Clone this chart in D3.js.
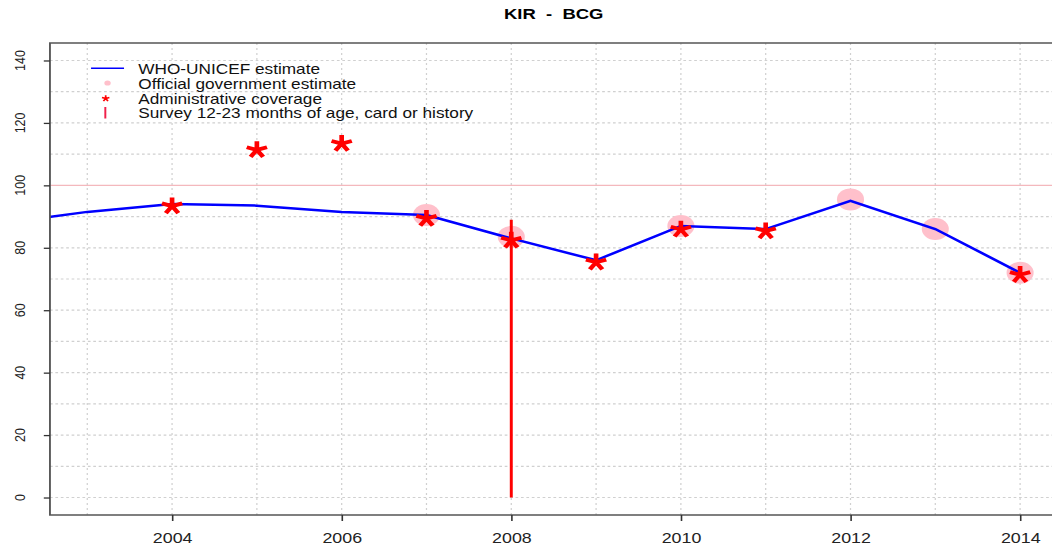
<!DOCTYPE html>
<html>
<head>
<meta charset="utf-8">
<script src="https://cdn.jsdelivr.net/npm/d3@7"></script>
<style>
  body { margin: 0; background: #fff; }
  svg { display: block; font-family: "Liberation Sans", Arial, sans-serif; }
</style>
</head>
<body>
<div class="chart"></div>
<script>
// values
const whoYears   = [2002, 2003, 2004, 2005, 2006, 2007, 2008, 2009, 2010, 2011, 2012, 2013, 2014];
const whoValues  = [87.8, 91.5, 94, 93.5, 91.5, 90.5, 83, 76, 87, 86, 95, 86, 72];
const govYears   = [2007, 2008, 2010, 2012, 2013, 2014];
const govValues  = [90.5, 83.5, 87, 95.5, 86, 72];
const adminYears = [2004, 2005, 2006, 2007, 2008, 2009, 2010, 2011, 2014];
const adminValues = [94, 112, 114, 90, 83, 76, 86.5, 86, 72];
const surveyYears = [2008];
const surveyValues = [89];
const xTickYears = [2004, 2006, 2008, 2010, 2012, 2014];
const yTickValues = [0, 20, 40, 60, 80, 100, 120, 140];
const legendLabels = ["WHO-UNICEF estimate", "Official government estimate",
                      "Administrative coverage", "Survey 12-23 months of age, card or history"];

// the reference is stretched horizontally, so draw in a narrower viewBox
const svg_width = 855;
const svg_height = 548;
const plot = {left: 40.6, right: 859.4, top: 43, bottom: 515};

const svg = d3.select(".chart").append("svg")
  .attr("width", 1052).attr("height", 548)
  .attr("viewBox", `0 0 ${svg_width} ${svg_height}`)
  .attr("preserveAspectRatio", "none");

const xScale = d3.scaleLinear([2002.56, 2014.44], [plot.left, plot.right]);
const yScale = d3.scaleLinear([-5.6, 145.6], [plot.bottom, plot.top]);

svg.append("clipPath").attr("id", "plotclip")
  .append("rect")
  .attr("x", plot.left).attr("y", plot.top)
  .attr("width", plot.right - plot.left).attr("height", plot.bottom - plot.top);

// grid
const grid = svg.append("g").attr("clip-path", "url(#plotclip)");
grid.selectAll(".vgrid").data(d3.range(2003, 2015))
  .enter().append("line")
  .attr("x1", d => xScale(d)).attr("x2", d => xScale(d))
  .attr("y1", plot.top).attr("y2", plot.bottom)
  .attr("stroke", "#d0d0d0").attr("stroke-width", 1)
  .attr("stroke-dasharray", "2,3");
grid.selectAll(".hgrid").data(d3.range(0, 150, 10).filter(d => d !== 100))
  .enter().append("line")
  .attr("x1", plot.left).attr("x2", plot.right)
  .attr("y1", d => yScale(d)).attr("y2", d => yScale(d))
  .attr("stroke", "#d0d0d0").attr("stroke-width", 1.2)
  .attr("stroke-dasharray", "2.2,2.2");
grid.append("line")
  .attr("x1", plot.left).attr("x2", plot.right)
  .attr("y1", yScale(100)).attr("y2", yScale(100))
  .attr("stroke", "#f4b8bd").attr("stroke-width", 1.2);

// five-armed asterisk like R's "*"
const asteriskType = {
  draw(context, size) {
    const r = Math.sqrt(size) / 2;
    for (let i = 0; i < 5; i++) {
      const a = i * 2 * Math.PI / 5;
      context.moveTo(0, 0);
      context.lineTo(r * Math.sin(a), -r * Math.cos(a));
    }
  }
};

const marks = svg.append("g").attr("clip-path", "url(#plotclip)");

const govData = govYears.map((y, i) => ({year: y, val: govValues[i]}));
marks.selectAll(".gov").data(govData)
  .enter().append("circle")
  .attr("cx", d => xScale(d.year)).attr("cy", d => yScale(d.val))
  .attr("r", 11)
  .attr("fill", "#ffc0cb");

const whoData = whoYears.map((y, i) => ({year: y, val: whoValues[i]}));
const line = d3.line().x(d => xScale(d.year)).y(d => yScale(d.val));
marks.append("path").datum(whoData)
  .attr("d", line)
  .attr("fill", "none")
  .attr("stroke", "#0000ff")
  .attr("stroke-width", 2.5);

const adminData = adminYears.map((y, i) => ({year: y, val: adminValues[i]}));
const bigStar = d3.symbol().type(asteriskType).size(300);
marks.selectAll(".admin").data(adminData)
  .enter().append("path")
  .attr("d", bigStar)
  .attr("transform", d => `translate(${xScale(d.year)},${yScale(d.val) + 2})`)
  .attr("fill", "none")
  .attr("stroke", "#ff0000")
  .attr("stroke-width", 3.8);

const surveyData = surveyYears.map((y, i) => ({year: y, val: surveyValues[i]}));
marks.selectAll(".survey").data(surveyData)
  .enter().append("line")
  .attr("x1", d => xScale(d.year)).attr("x2", d => xScale(d.year))
  .attr("y1", yScale(0)).attr("y2", d => yScale(d.val))
  .attr("stroke", "#ff0000")
  .attr("stroke-width", 2.4);

// box
svg.append("rect")
  .attr("x", plot.left).attr("y", plot.top)
  .attr("width", plot.right - plot.left).attr("height", plot.bottom - plot.top)
  .attr("fill", "none").attr("stroke", "#555").attr("stroke-width", 1.5);

// axes
const xAxis = d3.axisBottom(xScale).tickValues(xTickYears).tickFormat(d3.format("d"))
  .tickSize(6).tickSizeOuter(0);
const xAxisDraw = svg.append("g").attr("class", "x axis")
  .attr("transform", `translate(0,${plot.bottom})`)
  .call(xAxis);
xAxisDraw.select(".domain").remove();
xAxisDraw.selectAll("line").attr("stroke", "#333").attr("stroke-width", 1.3);
xAxisDraw.selectAll("text")
  .attr("y", 28).attr("dy", 0)
  .attr("fill", "#222")
  .style("font-size", "14.5px");

const yAxis = d3.axisLeft(yScale).tickValues(yTickValues).tickFormat("").tickSize(5);
const yAxisDraw = svg.append("g").attr("class", "y axis")
  .attr("transform", `translate(${plot.left},0)`)
  .call(yAxis);
yAxisDraw.select(".domain").remove();
yAxisDraw.selectAll("line").attr("stroke", "#333").attr("stroke-width", 1.3);

svg.append("g").selectAll("text").data(yTickValues)
  .enter().append("text")
  .attr("transform", d => `translate(20.5,${yScale(d)}) rotate(-90)`)
  .attr("text-anchor", "middle")
  .attr("fill", "#222")
  .style("font-size", "12.5px")
  .text(d => d);

// title
svg.append("text")
  .attr("x", (plot.left + plot.right) / 2).attr("y", 19.5)
  .attr("text-anchor", "middle")
  .style("font-weight", "bold").style("font-size", "15px")
  .style("white-space", "pre")
  .text("KIR  -  BCG");

// legend
const legend = svg.append("g");
const lx = 87.4;
legend.append("line")
  .attr("x1", 74).attr("x2", 100.8).attr("y1", 68.3).attr("y2", 68.3)
  .attr("stroke", "#0000ff").attr("stroke-width", 1.5);
legend.append("circle")
  .attr("cx", lx).attr("cy", 83).attr("r", 2.6).attr("fill", "#ffc0cb");
legend.append("path")
  .attr("d", d3.symbol().type(asteriskType).size(40))
  .attr("transform", `translate(${lx - 1.5},98.5)`)
  .attr("fill", "none").attr("stroke", "#ff0000").attr("stroke-width", 1.4);
legend.append("line")
  .attr("x1", lx - 1.8).attr("x2", lx - 1.8).attr("y1", 107).attr("y2", 118.5)
  .attr("stroke", "#f0204a").attr("stroke-width", 1.6);
legend.selectAll(".ltext").data(legendLabels)
  .enter().append("text")
  .attr("x", 112.4).attr("y", (d, i) => 74.2 + i * 14.75)
  .attr("fill", "#111")
  .style("font-size", "14px")
  .text(d => d);
</script>
</body>
</html>
